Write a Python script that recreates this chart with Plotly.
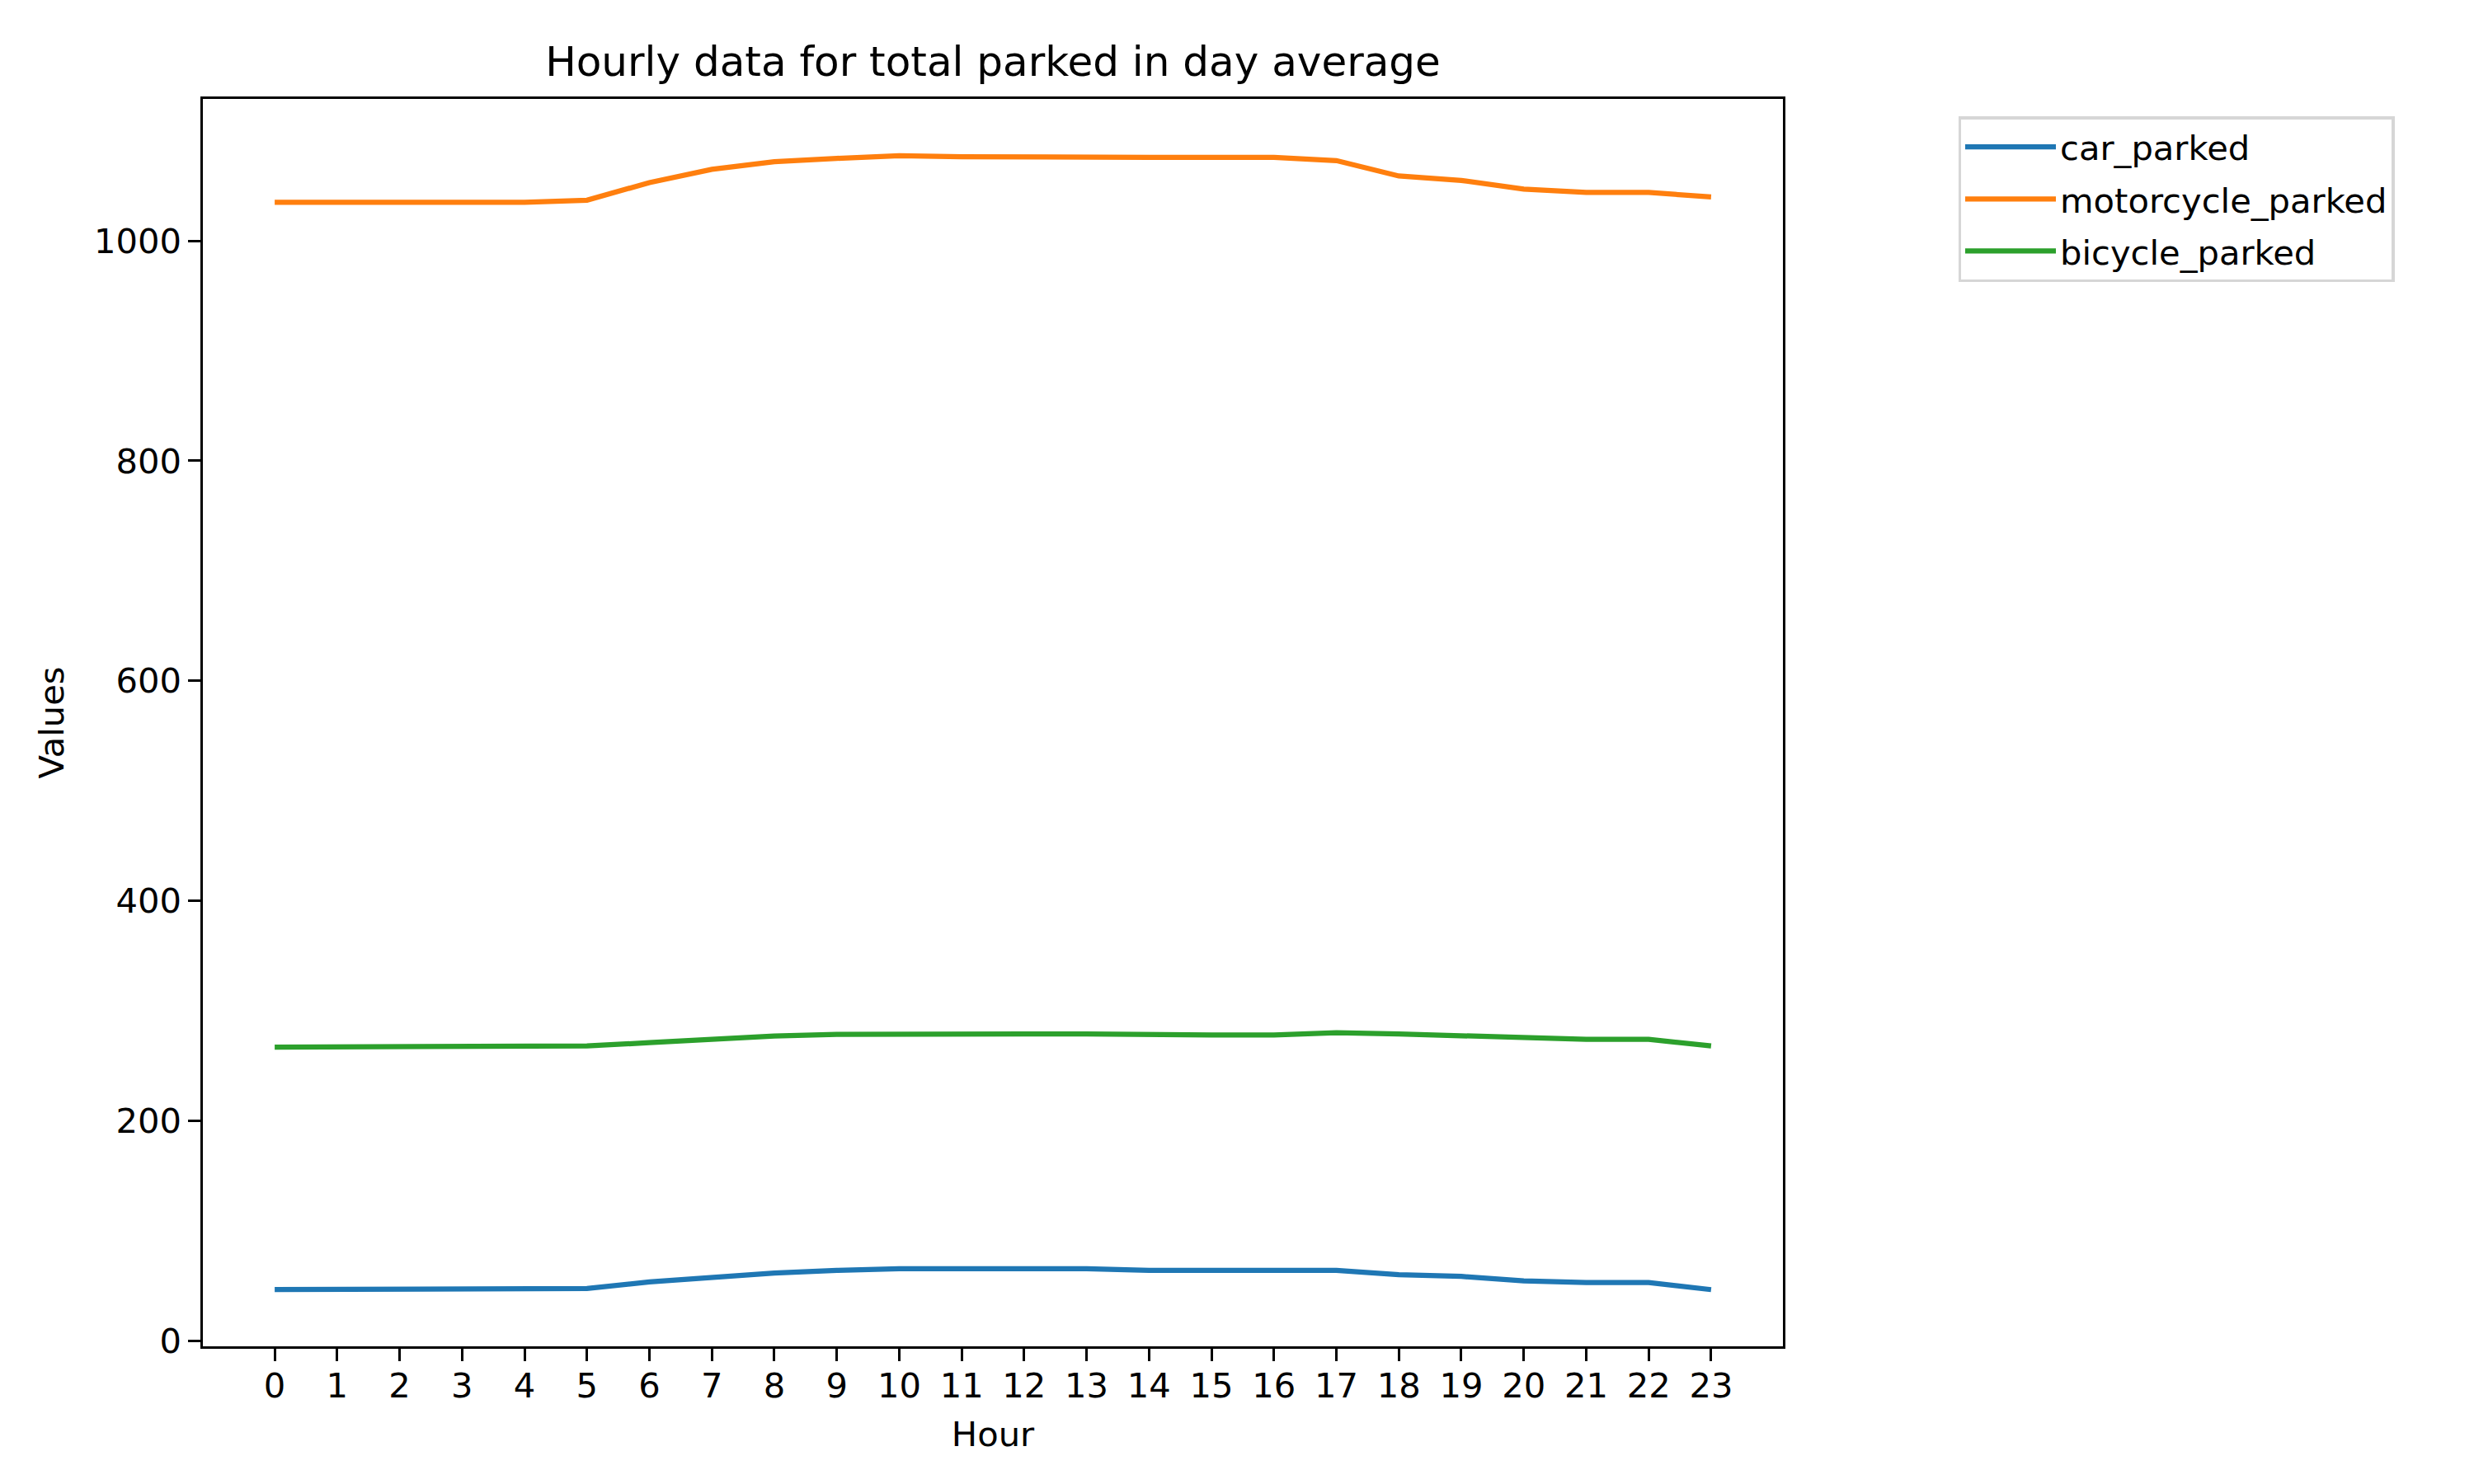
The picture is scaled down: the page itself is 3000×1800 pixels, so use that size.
import plotly.graph_objects as go

# hourly averages
hours = list(range(24))
car_parked = [46.5, 46.5, 46.5, 46.5, 46.5, 47.5, 53.5, 57.5, 61.5, 64, 65.5, 65.5,
              65.5, 65.5, 64, 64, 64, 64, 60, 58.5, 54.5, 53, 53, 46.5]
motorcycle_parked = [1035, 1035, 1035, 1035, 1035, 1037, 1053, 1065, 1072, 1075, 1077.5, 1076.5,
                     1076, 1076, 1076, 1076, 1076, 1073, 1059, 1055, 1047, 1044, 1044, 1040]
bicycle_parked = [267, 267, 267, 267, 267, 268, 271, 274, 277, 278.5, 279, 279,
                  279, 279, 278, 278, 278, 280, 279, 277.5, 275.5, 274, 274, 268]
y_ticks = [0, 200, 400, 600, 800, 1000]

series = [("car_parked", car_parked, "#1f77b4"),
          ("motorcycle_parked", motorcycle_parked, "#ff7f0e"),
          ("bicycle_parked", bicycle_parked, "#2ca02c")]

FONT = "DejaVu Sans"
PT = 300 / 72  # 10x6 in figure at 300 dpi

fig = go.Figure()
for name, vals, col in series:
    fig.add_trace(go.Scatter(x=hours, y=vals, mode="lines", name=name,
                             legendgroup=name,
                             line=dict(color=col, width=1.5 * PT)))

# matplotlib-like 5% auto margins
all_vals = car_parked + motorcycle_parked + bicycle_parked
lo, hi = min(all_vals), max(all_vals)
ypad = 0.05 * (hi - lo)
xpad = 0.05 * (hours[-1] - hours[0])

axis_common = dict(showgrid=False, zeroline=False, showline=True, mirror=True,
                   linecolor="black", linewidth=0.8 * PT, ticks="outside",
                   ticklen=3.5 * PT, tickwidth=0.8 * PT, tickcolor="black",
                   tickfont=dict(family=FONT, size=10 * PT, color="black"))

fig.update_layout(
    width=3000, height=1800,
    margin=dict(l=238, r=846, t=112, b=175, autoexpand=False),
    paper_bgcolor="white", plot_bgcolor="white",
    font=dict(family=FONT, size=10 * PT, color="black"),
    title=dict(text="Hourly data for total parked in day average",
               font=dict(family=FONT, size=12 * PT, color="black"),
               x=0.5, xref="paper", xanchor="center",
               y=1, yref="paper", yanchor="bottom", pad=dict(b=28)),
    xaxis=dict(range=[hours[0] - xpad, hours[-1] + xpad], tickmode="array",
               tickvals=hours, ticktext=[str(h) for h in hours],
               ticklabelstandoff=-6,
               title=dict(text="Hour", standoff=22,
                          font=dict(family=FONT, size=10 * PT, color="black")),
               **axis_common),
    yaxis=dict(range=[lo - ypad, hi + ypad], tickmode="array",
               tickvals=y_ticks, ticktext=[str(v) for v in y_ticks],
               title=dict(text="Values", standoff=24,
                          font=dict(family=FONT, size=10 * PT, color="black")),
               **axis_common),
    legend=dict(x=1.111, y=0.986, xanchor="left", yanchor="top",
                bgcolor="white", bordercolor="#d6d6d6", borderwidth=0.8 * PT,
                font=dict(family=FONT, size=10 * PT, color="black"),
                itemwidth=110, tracegroupgap=6),
    showlegend=True,
)

fig.write_html("out.html")
